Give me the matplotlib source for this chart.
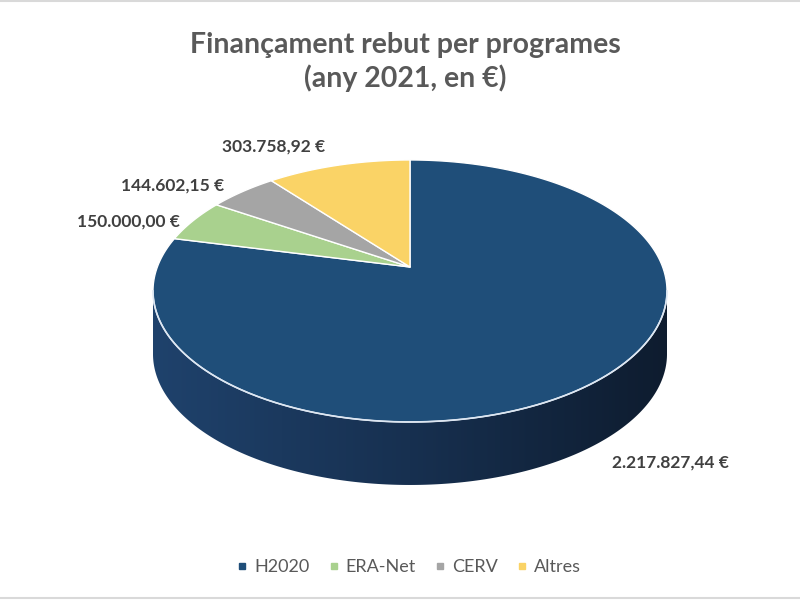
import numpy as np
import matplotlib
matplotlib.use("Agg")
import matplotlib.pyplot as plt
from matplotlib.patches import Polygon
from matplotlib.colors import LinearSegmentedColormap
from matplotlib.lines import Line2D

# ---- data ----
categories = ["H2020", "ERA-Net", "CERV", "Altres"]
values = [2217827.44, 150000.00, 144602.15, 303758.92]
value_labels = ["2.217.827,44 €", "150.000,00 €", "144.602,15 €", "303.758,92 €"]
colors = ["#1f4e79", "#a9d18e", "#a5a5a5", "#fad366"]
title = "Finançament rebut per programes\n(any 2021, en €)"

# ---- layout (pixel space) ----
AX_X, AX_Y = 410, 267          # projected pie centre (apex of wedges)
HALF_W, HALF_H = 257, 131       # half extents of projected top ellipse
K = 0.183                       # perspective strength
DEPTH = 63
label_pos = [(670, 463), (128, 222), (173, 186), (274, 147)]

SY = HALF_H * (1 - K ** 2)
SX = HALF_W * np.sqrt(1 - K ** 2)

plt.rcParams['font.family'] = ['Lato', 'DejaVu Sans']
fig = plt.figure(figsize=(8, 6), dpi=100)
ax = fig.add_axes([0, 0, 1, 1])
ax.set_xlim(0, 800)
ax.set_ylim(600, 0)
ax.axis('off')


def proj(theta_deg, dy=0.0):
    t = np.radians(theta_deg)
    u, v = np.cos(t), np.sin(t)
    w = 1 + K * v
    return AX_X + SX * u / w, AX_Y - SY * v / w + dy


# side wall (visible front part), horizontal gradient clipped to wall
a_left = 180 + np.degrees(np.arcsin(K))
a_right = 360 - np.degrees(np.arcsin(K))
ts = np.linspace(a_left, a_right, 300)
xt, yt = proj(ts)
xb, yb = proj(ts[::-1], DEPTH)
wall = Polygon(np.column_stack([np.concatenate([xt, xb]), np.concatenate([yt, yb])]),
               closed=True, facecolor='none', edgecolor='none')
ax.add_patch(wall)
cmap = LinearSegmentedColormap.from_list('wall', ["#1f426c", "#173050", "#0e1c2f"])
grad = np.linspace(0, 1, 256).reshape(1, -1)
im = ax.imshow(grad, cmap=cmap, extent=(xt.min(), xt.max(), yb.max() + 2, yt.min() - 2),
               aspect='auto', zorder=2, interpolation='bilinear')
im.set_clip_path(wall)
ax.set_xlim(0, 800)
ax.set_ylim(600, 0)

# top wedges
total = float(sum(values))
start = 90.0
for v, col in zip(values, colors):
    sweep = 360.0 * v / total
    end = start - sweep
    tt = np.linspace(start, end, max(int(sweep * 2), 4))
    xs, ys = proj(tt)
    poly = np.column_stack([np.concatenate([[AX_X], xs]), np.concatenate([[AX_Y], ys])])
    ax.add_patch(Polygon(poly, closed=True, facecolor=col, edgecolor='white',
                         linewidth=1.0, joinstyle='round', zorder=3))
    start = end

# light rim on front edge
ax.plot(xt, yt, color='#dce6f2', linewidth=1.2, zorder=4)

# value labels
for (lx, ly), txt in zip(label_pos, value_labels):
    ax.text(lx, ly, txt, ha='center', va='center', fontsize=12.5,
            fontweight='bold', color='#404040', zorder=5)

# title
ax.text(405, 62, title, ha='center', va='center', fontsize=20.5,
        fontweight='bold', color='#595959', linespacing=1.25)

# legend
handles = [Line2D([0], [0], marker='s', linestyle='none', markersize=5,
                  markerfacecolor=c, markeredgecolor=c) for c in colors]
fig.legend(handles, categories, loc='center', bbox_to_anchor=(0.512, 1 - 567 / 600),
           ncol=4, frameon=False, fontsize=13, labelcolor='#595959',
           handletextpad=0.45, columnspacing=1.15, handlelength=0.4)

# thin frame lines
ax.plot([0, 800], [1, 1], color='#d9d9d9', linewidth=1.5)
ax.plot([0, 800], [598, 598], color='#d9d9d9', linewidth=1.5)

fig.savefig("out.png", dpi=100, facecolor='white')
